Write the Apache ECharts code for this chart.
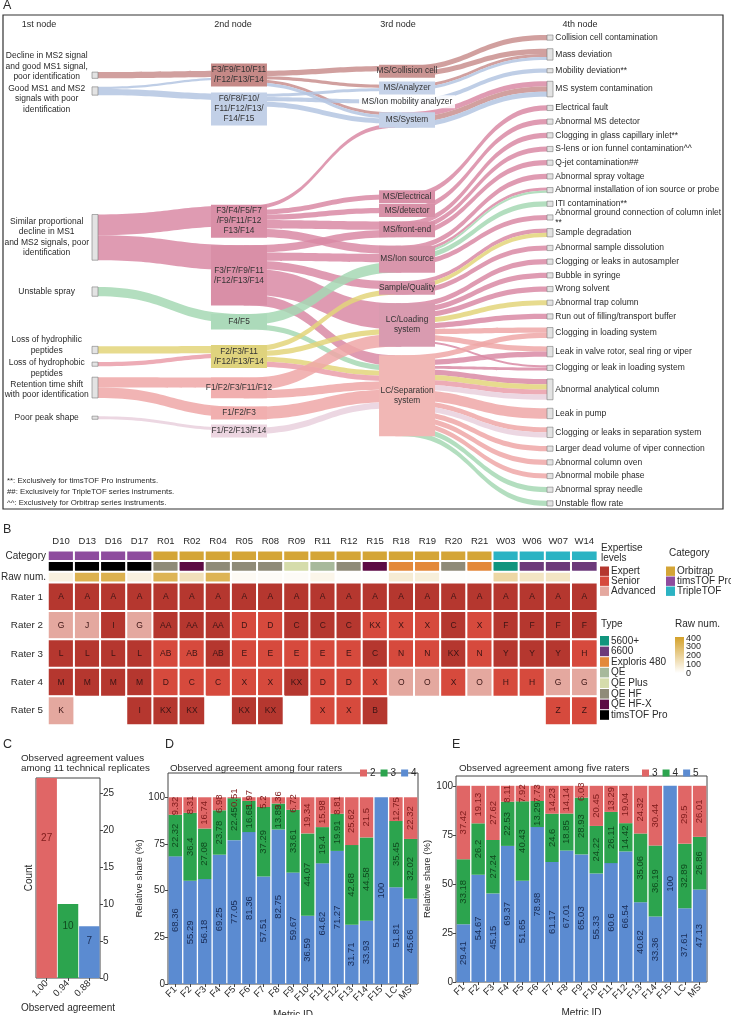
<!DOCTYPE html>
<html>
<head>
<meta charset="utf-8">
<title>Troubleshooting alluvial diagram and rater agreement</title>
<script src="https://cdn.jsdelivr.net/npm/echarts@6.0.0/dist/echarts.min.js"></script>
<style>
html,body{margin:0;padding:0;background:#ffffff;}
#chart{width:731px;height:1015px;}
</style>
</head>
<body>
<div id="chart"></div>
<script>
// ================= DATA =================
// ---- Panel A: nodes of the four levels ----
const firstNodeLabels = [
  'Decline in MS2 signal\nand good MS1 signal,\npoor identification',
  'Good MS1 and MS2\nsignals with poor\nidentification',
  'Similar proportional\ndecline in MS1\nand MS2 signals, poor\nidentification',
  'Unstable spray',
  'Loss of hydrophilic\npeptides',
  'Loss of hydrophobic\npeptides',
  'Retention time shift\nwith poor identification',
  'Poor peak shape'
];
const secondNodeLabels = [
  'F3/F9/F10/F11\n/F12/F13/F14',
  'F6/F8/F10/\nF11/F12/F13/\nF14/F15',
  'F3/F4/F5/F7\n/F9/F11/F12\nF13/F14',
  'F3/F7/F9/F11\n/F12/F13/F14',
  'F4/F5',
  'F2/F3/F11\n/F12/F13/F14',
  'F1/F2/F3/F11/F12',
  'F1/F2/F3',
  'F1/F2/F13/F14'
];
const thirdNodeLabels = [
  'MS/Collision cell', 'MS/Analyzer', 'MS/Ion mobility analyzer', 'MS/System',
  'MS/Electrical', 'MS/detector', 'MS/front-end', 'MS/Ion source',
  'Sample/Quality', 'LC/Loading\nsystem', 'LC/Separation\nsystem'
];
const fourthNodeLabels = [
  'Collision cell contamination', 'Mass deviation', 'Mobility deviation**', 'MS system contamination',
  'Electrical fault', 'Abnormal MS detector', 'Clogging in glass capillary inlet**',
  'S-lens or ion funnel contamination^^', 'Q-jet contamination##', 'Abnormal spray voltage',
  'Abnormal installation of ion source or probe', 'ITI contamination**',
  'Abnormal ground connection of column inlet\n**', 'Sample degradation',
  'Abnormal sample dissolution', 'Clogging or leaks in autosampler', 'Bubble in syringe',
  'Wrong solvent', 'Abnormal trap column', 'Run out of filling/transport buffer',
  'Clogging in loading system', 'Leak in valve rotor, seal ring or viper',
  'Clogging or leak in loading system', 'Abnormal analytical column', 'Leak in pump',
  'Clogging or leaks in separation system', 'Larger dead volume of viper connection',
  'Abnormal column oven', 'Abnormal mobile phase', 'Abnormal spray needle', 'Unstable flow rate'
];
// links: [source index, target index, value, originating 1st-node index]
const links12 = [
  [0,0,6,0],[1,0,2,1],[1,1,6,1],[2,2,20,2],[2,3,24,2],[3,4,9,3],
  [4,5,7,4],[5,5,4,5],[6,6,10,6],[6,7,10,6],[7,8,3,7]
];
const links23 = [
  [0,0,5,0],[0,1,3,0],[0,3,3,0],[0,3,3,1],
  [1,1,3,1],[1,2,4,1],[1,3,5,1],
  [2,3,4,2],[2,4,5,2],[2,5,5,2],[2,6,8,2],[2,7,8,2],
  [3,6,7,2],[3,7,8,2],[3,8,8,2],[3,9,25,2],[3,10,10,2],
  [4,7,10,3],[4,10,5,3],
  [5,8,5,4],[5,9,5,4],[5,10,5,4],[5,10,5,5],
  [6,9,12,6],[6,10,8,6],
  [7,10,12,6],
  [8,10,6,7]
];
const links34 = [
  [0,0,5,0],[0,1,5,0],
  [1,1,3,0],[1,1,3,1],
  [2,2,4,1],
  [3,3,5,2],[3,3,5,0],[3,3,5,1],
  [4,4,5,2],
  [5,5,5,2],
  [6,6,5,2],[6,7,5,2],[6,8,5,2],
  [7,9,5,2],[7,10,3,2],[7,10,2,3],[7,11,5,3],[7,12,5,2],
  [8,13,4,2],[8,13,4,4],[8,14,5,2],
  [9,15,5,2],[9,16,5,2],[9,17,5,2],[9,18,5,4],[9,19,5,2],[9,20,5,6],[9,21,5,6],[9,22,2,2],
  [10,20,5,6],[10,21,5,2],[10,22,3,2],
  [10,23,5,2],[10,23,5,4],[10,23,5,5],[10,23,5,7],[10,24,10,6],[10,25,5,6],[10,25,5,7],
  [10,26,5,6],[10,27,5,6],[10,28,5,6],[10,29,5,3],[10,30,5,3]
];
const footnotes = [
  '**: Exclusively for timsTOF Pro instruments.',
  '##: Exclusively for TripleTOF series instruments.',
  '^^: Exclusively for Orbitrap series instruments.'
];

// ---- Panel B ----
const sampleIds = ['D10','D13','D16','D17','R01','R02','R04','R05','R08','R09','R11','R12','R15','R18','R19','R20','R21','W03','W06','W07','W14'];
const categoryNames = ['Orbitrap','timsTOF Pro','TripleTOF'];
const sampleCategory = ['timsTOF Pro','timsTOF Pro','timsTOF Pro','timsTOF Pro',
  'Orbitrap','Orbitrap','Orbitrap','Orbitrap','Orbitrap','Orbitrap','Orbitrap','Orbitrap','Orbitrap','Orbitrap','Orbitrap','Orbitrap','Orbitrap',
  'TripleTOF','TripleTOF','TripleTOF','TripleTOF'];
const typeNames = ['5600+','6600','Exploris 480','QE','QE Plus','QE HF','QE HF-X','timsTOF Pro'];
const sampleType = ['timsTOF Pro','timsTOF Pro','timsTOF Pro','timsTOF Pro',
  'QE HF','QE HF-X','QE HF','QE HF','QE HF','QE Plus','QE','QE HF','QE HF-X','Exploris 480','Exploris 480','QE HF','Exploris 480',
  '5600+','6600','6600','6600'];
const rawNum = [60,330,330,60,320,130,320,20,15,15,40,5,5,80,70,5,5,170,110,110,5];
const rawTicks = [400,300,200,100,0];
const headerRows = ['Raw num.','Type','Category'];
const raterNames = ['Rater 1','Rater 2','Rater 3','Rater 4','Rater 5'];
const expertiseLevels = ['Expert','Senior','Advanced'];
const raterLetters = [
  ['A','A','A','A','A','A','A','A','A','A','A','A','A','A','A','A','A','A','A','A','A'],
  ['G','J','I','G','AA','AA','AA','D','D','C','C','C','KX','X','X','C','X','F','F','F','F'],
  ['L','L','L','L','AB','AB','AB','E','E','E','E','E','C','N','N','KX','N','Y','Y','Y','H'],
  ['M','M','M','M','D','C','C','X','X','KX','D','D','X','O','O','X','O','H','H','G','G'],
  ['K','','','I','KX','KX','','KX','KX','','X','X','B','','','','','','','Z','Z']
];
const raterLevel = [
  ['Expert','Expert','Expert','Expert','Expert','Expert','Expert','Expert','Expert','Expert','Expert','Expert','Expert','Expert','Expert','Expert','Expert','Expert','Expert','Expert','Expert'],
  ['Advanced','Advanced','Expert','Advanced','Expert','Expert','Expert','Senior','Senior','Expert','Expert','Expert','Senior','Senior','Senior','Expert','Senior','Expert','Expert','Expert','Expert'],
  ['Expert','Expert','Expert','Expert','Senior','Senior','Expert','Senior','Senior','Senior','Senior','Senior','Expert','Senior','Senior','Expert','Senior','Expert','Expert','Expert','Senior'],
  ['Expert','Expert','Expert','Expert','Senior','Senior','Senior','Senior','Senior','Expert','Senior','Senior','Senior','Advanced','Advanced','Senior','Advanced','Senior','Senior','Advanced','Advanced'],
  ['Advanced','','','Expert','Expert','Expert','','Expert','Expert','','Senior','Senior','Expert','','','','','','','Senior','Senior']
];

// ---- Panel C ----
const cCategories = ['1.00','0.94','0.88'];
const cCounts = [27,10,7];

// ---- Panels D & E ----
const metricIds = ['F1','F2','F3','F4','F5','F6','F7','F8','F9','F10','F11','F12','F13','F14','F15','LC','MS'];
const dFour  = [68.36,55.29,56.18,69.25,77.05,81.36,57.51,82.75,59.67,36.59,64.62,71.27,31.71,33.93,100,51.81,45.66];
const dThree = [22.32,36.4,27.08,23.78,22.45,16.68,37.29,13.89,33.61,44.07,19.4,19.91,42.68,44.58,0,35.45,32.02];
const dTwo   = [9.32,8.31,16.74,6.98,0.51,1.97,5.2,3.36,6.72,19.34,15.98,8.81,25.62,21.5,0,12.75,22.32];
const eFive  = [29.41,54.67,45.15,69.37,51.65,78.98,61.17,67.01,65.03,55.33,60.6,66.54,40.62,33.36,100,37.61,47.13];
const eFour  = [33.18,26.2,27.24,22.53,40.43,13.29,24.6,18.85,28.93,24.22,26.11,14.42,35.06,36.19,0,32.89,26.86];
const eThree = [37.42,19.13,27.62,8.11,7.92,7.73,14.23,14.14,6.03,20.45,13.29,19.04,24.32,30.44,0,29.5,26.01];

// ================= STYLES =================
const FONT = '"Liberation Sans", Arial, Helvetica, sans-serif';
const TXT = '#2a2a2a';
const originColors = ['#c98f8e','#b4c6e2','#d98aa4','#a6d8b4','#e3d57a','#ea9ea9','#efa7a7','#e9d0dd'];
const secondBoxColors = ['#c58987','#c2d0e7','#d98fa7','#d98fa7','#acdaba','#dfd37d','#f1afaf','#f1afaf','#ecd5e0'];
const thirdBoxColors = ['#c99492','#c5d2e8','rgba(255,255,255,0.85)','#c5d2e8','#d891a8','#d891a8','#d891a8','#d996ac','#d996ac','#d99bb0','#f1b7b5'];
const firstLabelShift = [-9, 8, 0, 0, -5, 4, 2, 0];
const secondLabelShift = [-3, 9, 0, 0, 0, 0, 0, 0, 0];
const categoryColors = ['#d4a537','#8e4c9e','#2bb3c3'];
const typeColors = ['#11957d','#6c3a7a','#e3893a','#a7b99b','#d5dcab','#8f8b78','#5c0b44','#000000'];
const levelColors = ['#b5372f','#d64a3d','#e4a89f'];
const rawGold = '#d4a12a';
const barRed = '#e06666', barGreen = '#2ca44e', barBlue = '#5b8bd1';
const labRed = '#7e1b1b', labGreen = '#0f4a1e', labBlue = '#182b55';

// ================= BUILD =================
const colLabels = [firstNodeLabels, secondNodeLabels, thirdNodeLabels, fourthNodeLabels];
const nodeId = (c, i) => colLabels[c][i].replace(/\n/g, ' ');

function buildNodes(dyArr) {
  const out = [];
  colLabels.forEach((labels, c) => labels.forEach((lab, i) => {
    const k = out.length;
    const node = { name: nodeId(c, i), depth: c };
    if (c === 0 || c === 3) {
      node.itemStyle = { color: '#e3e3e3', borderColor: '#7a7a7a', borderWidth: 0.6 };
      node.label = c === 0
        ? { position: 'left', distance: 4, align: 'center', offset: [-41, firstLabelShift[i]], fontSize: 8.5, lineHeight: 10.5, color: TXT, formatter: lab }
        : { position: 'right', distance: 2, fontSize: 8.5, lineHeight: 9.5, color: TXT, formatter: lab };
    } else {
      const bg = c === 1 ? secondBoxColors[i] : thirdBoxColors[i];
      const lines = lab.split('\n').length;
      const lh = 10;
      const dy = dyArr ? dyArr[k] : 0;
      const pv = Math.max(1.5, (dy - lines * lh) / 2);
      const wide = (c === 2 && i === 2);
      node.itemStyle = { color: bg, borderWidth: 0 };
      node.label = {
        position: 'inside', formatter: lab, backgroundColor: bg,
        width: wide ? 92 : 52, padding: [pv, 2, pv, 2], lineHeight: lh,
        fontSize: 8.3, color: '#333', align: 'center', verticalAlign: 'middle',
        offset: [c === 1 ? -7.7 : 8.7, c === 1 ? secondLabelShift[i] : 0], overflow: 'none'
      };
    }
    out.push(node);
  }));
  return out;
}

const sankeyLinks = [];
[[links12, 0], [links23, 1], [links34, 2]].forEach(([arr, c]) => {
  arr.forEach(([s, t, v, o]) => {
    sankeyLinks.push({ source: nodeId(c, s), target: nodeId(c + 1, t), value: v, lineStyle: { color: originColors[o] } });
  });
});

// heatmap data
const catData = sampleIds.map((s, i) => [i, 2, categoryNames.indexOf(sampleCategory[i])]);
const typeData = sampleIds.map((s, i) => [i, 1, typeNames.indexOf(sampleType[i])]);
const rawData = sampleIds.map((s, i) => [i, 0, rawNum[i]]);
const raterData = [];
raterLetters.forEach((row, r) => row.forEach((letter, i) => {
  if (letter) raterData.push([i, 4 - r, expertiseLevels.indexOf(raterLevel[r][i])]);
}));
const raterAxis = raterNames.slice().reverse();

const cData = cCounts.map((v, i) => ({
  value: v,
  itemStyle: { color: [barRed, barGreen, barBlue][i] },
  label: { color: [labRed, labGreen, labBlue][i] }
}));

function stackedBar(name, data, color, labColor, xi, yi) {
  return {
    type: 'bar', name: name, data: data, stack: 's' + xi, xAxisIndex: xi, yAxisIndex: yi,
    barCategoryGap: '9%', itemStyle: { color: color }, silent: true,
    label: {
      show: true, position: 'inside', rotate: 90, fontSize: 9.5, color: labColor, fontFamily: FONT,
      formatter: p => (p.value > 0 ? String(p.value) : '')
    }
  };
}

function txt(x, y, text, opt) {
  opt = opt || {};
  return {
    type: 'text', x: x, y: y, rotation: opt.rotation || 0, silent: true,
    style: {
      text: text, fill: opt.fill || TXT, fontSize: opt.size || 9.5, fontFamily: FONT,
      align: opt.align || 'left', textAlign: opt.align || 'left',
      verticalAlign: 'middle', textVerticalAlign: 'middle'
    }
  };
}
function box(x, y, w, h, fill) {
  return { type: 'rect', silent: true, shape: { x: x, y: y, width: w, height: h }, style: { fill: fill } };
}

const graphics = [];
graphics.push(txt(3, 6, 'A', { size: 12.5 }), txt(3, 530, 'B', { size: 12.5 }), txt(3, 745, 'C', { size: 12.5 }),
  txt(165, 745, 'D', { size: 12.5 }), txt(452, 745, 'E', { size: 12.5 }));
graphics.push({ type: 'rect', silent: true, shape: { x: 3, y: 15, width: 720, height: 494 }, style: { fill: 'none', stroke: '#333', lineWidth: 1.2 } });
graphics.push(txt(39, 25, '1st node', { size: 9, align: 'center' }), txt(233, 25, '2nd node', { size: 9, align: 'center' }),
  txt(398, 25, '3rd node', { size: 9, align: 'center' }), txt(580, 25, '4th node', { size: 9, align: 'center' }));
footnotes.forEach((f, i) => graphics.push(txt(7, 481 + i * 11, f, { size: 7.8 })));
graphics.push(txt(601, 548, 'Expertise', { size: 10 }), txt(601, 558.5, 'levels', { size: 10 }));
expertiseLevels.forEach((l, i) => { graphics.push(box(600, 566.5 + i * 10, 9, 9.4, levelColors[i]), txt(611, 571.2 + i * 10, l, { size: 10 })); });
graphics.push(txt(669, 553, 'Category', { size: 10 }));
categoryNames.forEach((l, i) => { graphics.push(box(666, 566.5 + i * 10, 9, 9.4, categoryColors[i]), txt(677, 571.2 + i * 10, l, { size: 10 })); });
graphics.push(txt(601, 624, 'Type', { size: 10 }));
typeNames.forEach((l, i) => { graphics.push(box(600, 636 + i * 10.6, 9, 9.6, typeColors[i]), txt(611, 640.8 + i * 10.6, l, { size: 10 })); });
graphics.push(txt(675, 624, 'Raw num.', { size: 10 }));
graphics.push({ type: 'rect', silent: true, shape: { x: 675, y: 637, width: 9, height: 36 },
  style: { fill: new echarts.graphic.LinearGradient(0, 0, 0, 1, [{ offset: 0, color: rawGold }, { offset: 1, color: '#ffffff' }]) } });
rawTicks.forEach((t, i) => graphics.push(txt(686, 638.3 + i * 8.7, String(t), { size: 9 })));
graphics.push(txt(21, 758, 'Observed agreement values', { size: 9.8 }), txt(21, 768.5, 'among 11 technical replicates', { size: 9.8 }));
graphics.push(txt(170, 768, 'Observed agreement among four raters', { size: 9.8 }));
graphics.push(txt(459, 768, 'Observed agreement among five raters', { size: 9.8 }));
graphics.push(txt(29, 878, 'Count', { size: 10, align: 'center', rotation: Math.PI / 2 }));

const axisTxt = { fontSize: 9.5, color: TXT, fontFamily: FONT };
const gridFrame = { show: true, borderColor: '#444', borderWidth: 1, backgroundColor: 'transparent', outerBoundsMode: 'none' };
const tickStyle = { show: true, length: 3, lineStyle: { color: '#444' } };

const option = {
  animation: false,
  backgroundColor: '#ffffff',
  textStyle: { fontFamily: FONT },
  grid: [
    { left: 48, top: 550.7, width: 549.4, height: 32, outerBoundsMode: 'none' },
    { left: 48, top: 582.7, width: 549.4, height: 142.3, outerBoundsMode: 'none' },
    Object.assign({ left: 36, top: 778, width: 64, height: 200 }, gridFrame),
    Object.assign({ left: 168, top: 773, width: 250, height: 211 }, gridFrame),
    Object.assign({ left: 456, top: 776, width: 251, height: 206 }, gridFrame)
  ],
  xAxis: [
    { gridIndex: 0, type: 'category', data: sampleIds, position: 'top', axisLine: { show: false }, axisTick: { show: false },
      axisLabel: Object.assign({ margin: 4, interval: 0 }, axisTxt), splitLine: { show: false } },
    { gridIndex: 1, type: 'category', data: sampleIds, show: false },
    { gridIndex: 2, type: 'category', data: cCategories, axisLine: { show: false },
      axisTick: Object.assign({ alignWithLabel: true }, tickStyle),
      axisLabel: Object.assign({ rotate: 45, margin: 4, interval: 0 }, axisTxt),
      name: 'Observed agreement', nameLocation: 'middle', nameGap: 25, nameTextStyle: { fontSize: 10, color: TXT, fontFamily: FONT } },
    { gridIndex: 3, type: 'category', data: metricIds, axisLine: { show: false },
      axisTick: Object.assign({ alignWithLabel: true }, tickStyle),
      axisLabel: Object.assign({ rotate: 45, margin: 4, interval: 0 }, axisTxt),
      name: 'Metric ID', nameLocation: 'middle', nameGap: 26, nameTextStyle: { fontSize: 10, color: TXT, fontFamily: FONT } },
    { gridIndex: 4, type: 'category', data: metricIds, axisLine: { show: false },
      axisTick: Object.assign({ alignWithLabel: true }, tickStyle),
      axisLabel: Object.assign({ rotate: 45, margin: 4, interval: 0 }, axisTxt),
      name: 'Metric ID', nameLocation: 'middle', nameGap: 26, nameTextStyle: { fontSize: 10, color: TXT, fontFamily: FONT } }
  ],
  yAxis: [
    { gridIndex: 0, type: 'category', data: headerRows, axisLine: { show: false }, axisTick: { show: false },
      axisLabel: Object.assign({ margin: 2 }, axisTxt, { fontSize: 10 }) },
    { gridIndex: 1, type: 'category', data: raterAxis, axisLine: { show: false }, axisTick: { show: false },
      axisLabel: Object.assign({ margin: 5 }, axisTxt, { fontSize: 9.8 }) },
    { gridIndex: 2, type: 'value', position: 'right', min: 0, max: 27, interval: 5, splitLine: { show: false },
      axisLine: { show: false }, axisTick: tickStyle,
      axisLabel: Object.assign({ margin: 3, showMaxLabel: false }, axisTxt, { fontSize: 10 }) },
    { gridIndex: 3, type: 'value', min: 0, max: 113, interval: 25, splitLine: { show: false },
      axisLine: { show: false }, axisTick: tickStyle,
      axisLabel: Object.assign({ margin: 3, showMaxLabel: false }, axisTxt, { fontSize: 10 }),
      name: 'Relative share (%)', nameLocation: 'middle', nameGap: 24, nameTextStyle: { fontSize: 9.5, color: TXT, fontFamily: FONT } },
    { gridIndex: 4, type: 'value', min: 0, max: 105, interval: 25, splitLine: { show: false },
      axisLine: { show: false }, axisTick: tickStyle,
      axisLabel: Object.assign({ margin: 3, showMaxLabel: false }, axisTxt, { fontSize: 10 }),
      name: 'Relative share (%)', nameLocation: 'middle', nameGap: 24, nameTextStyle: { fontSize: 9.5, color: TXT, fontFamily: FONT } }
  ],
  visualMap: [
    { type: 'piecewise', show: false, seriesIndex: 1, dimension: 2,
      pieces: categoryNames.map((n, k) => ({ value: k, color: categoryColors[k] })) },
    { type: 'piecewise', show: false, seriesIndex: 2, dimension: 2,
      pieces: typeNames.map((n, k) => ({ value: k, color: typeColors[k] })) },
    { type: 'continuous', show: false, seriesIndex: 3, dimension: 2, min: 0, max: 400,
      inRange: { color: ['#ffffff', rawGold] } },
    { type: 'piecewise', show: false, seriesIndex: 4, dimension: 2,
      pieces: expertiseLevels.map((n, k) => ({ value: k, color: levelColors[k] })) }
  ],
  legend: [
    { data: ['D2', 'D3', 'D4'], formatter: n => n.slice(1), left: 355, top: 763, itemWidth: 7, itemHeight: 7, itemGap: 5,
      icon: 'rect', selectedMode: false, textStyle: { fontSize: 10, color: TXT, fontFamily: FONT, padding: [0, 0, 0, -2] } },
    { data: ['E3', 'E4', 'E5'], formatter: n => n.slice(1), left: 637, top: 763, itemWidth: 7, itemHeight: 7, itemGap: 5,
      icon: 'rect', selectedMode: false, textStyle: { fontSize: 10, color: TXT, fontFamily: FONT, padding: [0, 0, 0, -2] } }
  ],
  series: [
    {
      type: 'sankey', id: 'sankey', left: 92, top: 35, width: 461, height: 471,
      nodeWidth: 6, nodeGap: 8.5, nodeAlign: 'justify', layoutIterations: 32, draggable: false, silent: true,
      emphasis: { disabled: true },
      label: { fontFamily: FONT },
      lineStyle: { opacity: 0.85, curveness: 0.5 },
      data: buildNodes(null), links: sankeyLinks
    },
    { type: 'heatmap', xAxisIndex: 0, yAxisIndex: 0, data: catData, silent: true,
      itemStyle: { borderColor: '#ffffff', borderWidth: 2 } },
    { type: 'heatmap', xAxisIndex: 0, yAxisIndex: 0, data: typeData, silent: true,
      itemStyle: { borderColor: '#ffffff', borderWidth: 2 } },
    { type: 'heatmap', xAxisIndex: 0, yAxisIndex: 0, data: rawData, silent: true,
      itemStyle: { borderColor: '#ffffff', borderWidth: 2 } },
    { type: 'heatmap', xAxisIndex: 1, yAxisIndex: 1, data: raterData, silent: true,
      itemStyle: { borderColor: '#ffffff', borderWidth: 2 },
      label: { show: true, fontSize: 8.5, color: '#3b1414', fontFamily: FONT,
        formatter: p => raterLetters[4 - p.value[1]][p.value[0]] } },
    { type: 'bar', xAxisIndex: 2, yAxisIndex: 2, data: cData, barCategoryGap: '4%', silent: true,
      label: { show: true, position: ['50%', '30%'], align: 'center', verticalAlign: 'middle', fontSize: 10, fontFamily: FONT } },
    stackedBar('D4', dFour, barBlue, labBlue, 3, 3),
    stackedBar('D3', dThree, barGreen, labGreen, 3, 3),
    stackedBar('D2', dTwo, barRed, labRed, 3, 3),
    stackedBar('E5', eFive, barBlue, labBlue, 4, 4),
    stackedBar('E4', eFour, barGreen, labGreen, 4, 4),
    stackedBar('E3', eThree, barRed, labRed, 4, 4)
  ],
  graphic: { elements: graphics }
};

const chart = echarts.init(document.getElementById('chart'), null, { renderer: 'canvas' });
chart.setOption(option);
// size the label boxes of the 2nd/3rd level nodes to the node heights laid out by the sankey
try {
  const nodeData = chart.getModel().getSeriesByIndex(0).getData();
  const dys = [];
  for (let i = 0; i < nodeData.count(); i++) {
    const lay = nodeData.getItemLayout(i);
    dys.push(lay ? lay.dy : 0);
  }
  chart.setOption({ series: [{ id: 'sankey', data: buildNodes(dys) }] });
} catch (e) { console.error(e); }
</script>
</body>
</html>
